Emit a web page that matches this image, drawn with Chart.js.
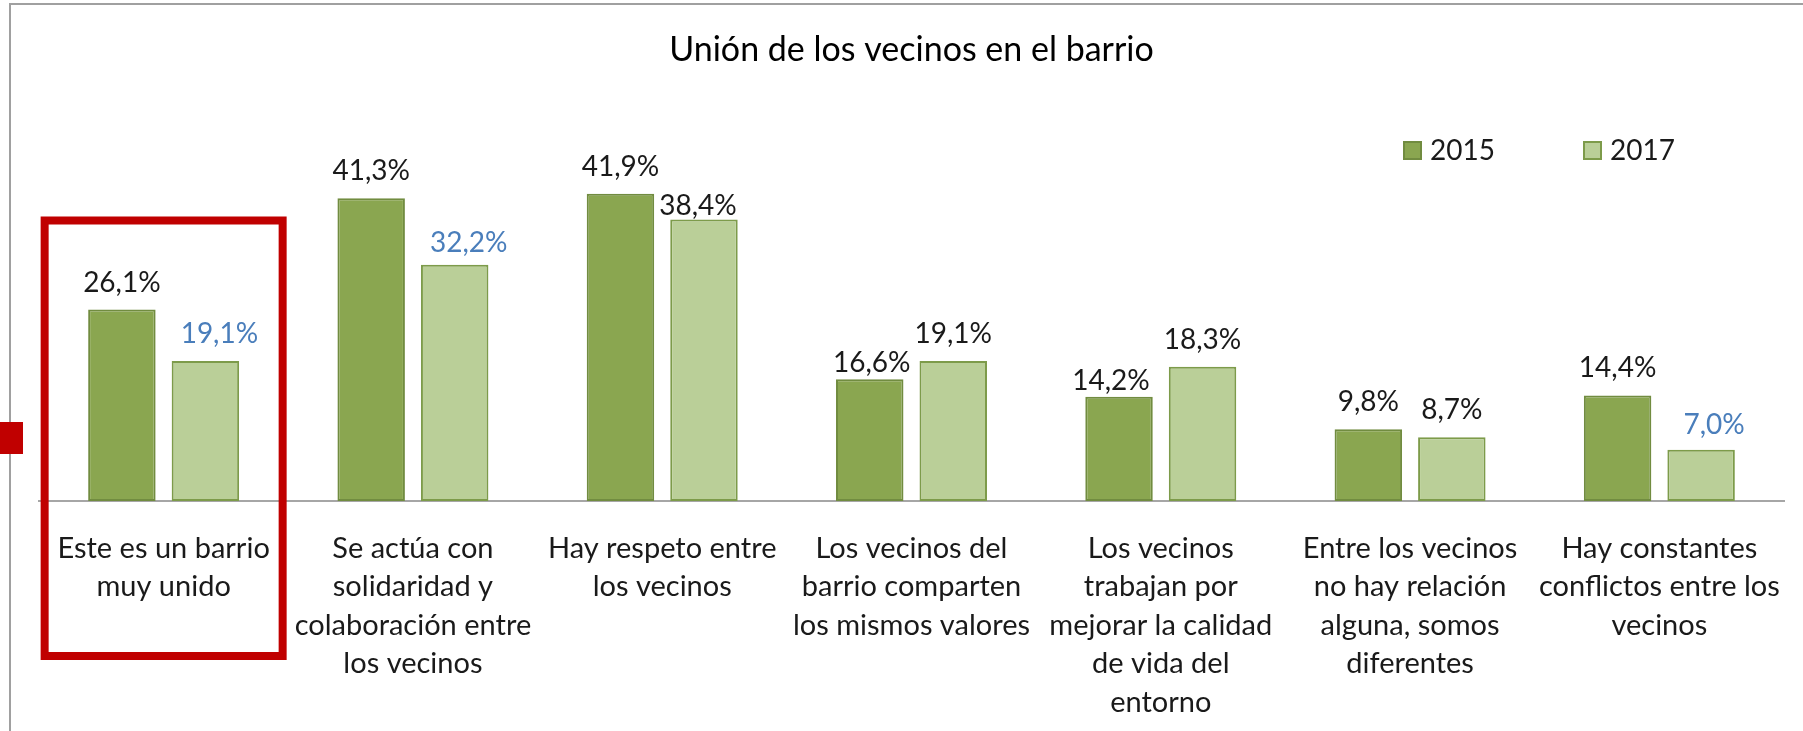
<!DOCTYPE html>
<html>
<head>
<meta charset="utf-8">
<script src="https://cdn.jsdelivr.net/npm/chart.js@4.4.1/dist/chart.umd.min.js"></script>
<style>
    html, body { margin: 0; padding: 0; background: #ffffff; }
    canvas { display: block; }
</style>
</head>
<body>
<canvas id="grafico" width="1803" height="731"></canvas>
<script>
// categorias (lineas de cada etiqueta)
const categorias = [
    ["Este es un barrio", "muy unido"],
    ["Se actúa con", "solidaridad y", "colaboración entre", "los vecinos"],
    ["Hay respeto entre", "los vecinos"],
    ["Los vecinos del", "barrio comparten", "los mismos valores"],
    ["Los vecinos", "trabajan por", "mejorar la calidad", "de vida del", "entorno"],
    ["Entre los vecinos", "no hay relación", "alguna, somos", "diferentes"],
    ["Hay constantes", "conflictos entre los", "vecinos"]
];

const anios = ["2015", "2017"];
const valores2015 = [26.1, 41.3, 41.9, 16.6, 14.2, 9.8, 14.4];
const valores2017 = [19.1, 32.2, 38.4, 19.1, 18.3, 8.7, 7.0];

const titulo = "Unión de los vecinos en el barrio";

const colores = ["#8AA650", "#BACF98"];
const bordes = ["#718C40", "#7D9B4A"];
const azul = "#4A7EBB";
const fuente = "Lato";

// ajustes manuales de algunas etiquetas (dataset-indice)
const ajustesEtiqueta = {
    "1-0": { dx: 14, dy: 0, color: azul },
    "1-1": { dx: 14, dy: 5, color: azul },
    "1-2": { dx: -6, dy: 14 },
    "0-3": { dx: 2, dy: 11 },
    "0-4": { dx: -8, dy: 11 },
    "1-6": { dx: 13, dy: 2, color: azul }
};

function formato(v) {
    return v.toFixed(1).replace(".", ",") + "%";
}

const decoracion = {
    id: "decoracion",
    afterDraw(chart) {
        const ctx = chart.ctx;
        const x = chart.scales.x;
        ctx.save();

        // marco gris
        ctx.strokeStyle = "#A0A0A0";
        ctx.lineWidth = 2;
        ctx.beginPath();
        ctx.moveTo(10, 731);
        ctx.lineTo(10, 4);
        ctx.lineTo(1803, 4);
        ctx.stroke();

        // marca roja en el borde
        ctx.fillStyle = "#C00000";
        ctx.fillRect(0, 422, 23, 32);

        // titulo
        ctx.fillStyle = "#000000";
        ctx.font = "34px " + fuente;
        ctx.textAlign = "center";
        ctx.textBaseline = "alphabetic";
        ctx.fillText(titulo, (chart.chartArea.left + chart.chartArea.right) / 2, 61);

        // leyenda
        const leyX = [1403, 1583];
        ctx.font = "28px " + fuente;
        ctx.textAlign = "left";
        anios.forEach(function (a, i) {
            ctx.fillStyle = bordes[i];
            ctx.fillRect(leyX[i], 141, 19, 19);
            ctx.fillStyle = colores[i];
            ctx.fillRect(leyX[i] + 2, 143, 15, 15);
            ctx.fillStyle = "#1A1A1A";
            ctx.fillText(a, leyX[i] + 27, 160);
        });

        // etiquetas de datos
        ctx.textAlign = "center";
        chart.data.datasets.forEach(function (ds, di) {
            const meta = chart.getDatasetMeta(di);
            meta.data.forEach(function (bar, i) {
                const aj = ajustesEtiqueta[di + "-" + i] || {};
                ctx.fillStyle = aj.color || "#1A1A1A";
                ctx.fillText(formato(ds.data[i]), bar.x + (aj.dx || 0), bar.y - 18 + (aj.dy || 0));
            });
        });

        // recuadro rojo sobre la primera categoria
        const cx = x.getPixelForValue(0);
        ctx.strokeStyle = "#C00000";
        ctx.lineWidth = 8;
        ctx.strokeRect(cx - 119, 220.5, 238, 435.5);

        ctx.restore();
    }
};

new Chart(document.getElementById("grafico"), {
    type: "bar",
    data: {
        labels: categorias,
        datasets: [
            {
                label: anios[0],
                data: valores2015,
                backgroundColor: colores[0],
                borderColor: bordes[0],
                borderWidth: 2,
                borderSkipped: false
            },
            {
                label: anios[1],
                data: valores2017,
                backgroundColor: colores[1],
                borderColor: bordes[1],
                borderWidth: 2,
                borderSkipped: false
            }
        ]
    },
    options: {
        responsive: false,
        animation: false,
        devicePixelRatio: 1,
        layout: {
            padding: { left: 39, right: 19, top: 61, bottom: 0 }
        },
        datasets: {
            bar: {
                categoryPercentage: 0.67,
                barPercentage: 0.808
            }
        },
        plugins: {
            legend: { display: false },
            title: { display: false },
            tooltip: { enabled: false }
        },
        scales: {
            x: {
                grid: { display: false, drawTicks: false },
                border: { display: true, color: "#A6A6A6", width: 2 },
                ticks: {
                    autoSkip: false,
                    maxRotation: 0,
                    padding: 28,
                    color: "#1A1A1A",
                    font: { family: fuente, size: 29, lineHeight: 1.328 }
                },
                afterFit: function (scale) {
                    scale.height = 230;
                    scale.paddingLeft = 0;
                    scale.paddingRight = 0;
                }
            },
            y: {
                display: false,
                min: 0,
                max: 60
            }
        }
    },
    plugins: [decoracion]
});
</script>
</body>
</html>
